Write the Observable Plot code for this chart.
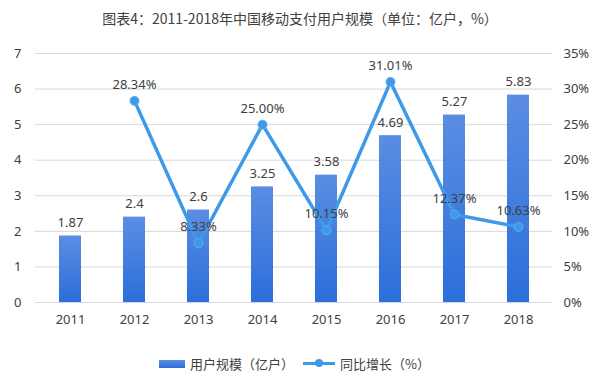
<!DOCTYPE html>
<html><head><meta charset="utf-8">
<script src="https://cdn.jsdelivr.net/npm/d3@7"></script>
<script src="https://cdn.jsdelivr.net/npm/@observablehq/plot@0.6"></script>
<style>
body{margin:0;background:#fff;font-family:"Noto Sans CJK SC","Noto Sans",sans-serif;width:600px;height:389px;position:relative;overflow:hidden;}
#title{height:40px;line-height:36px;text-align:center;font-size:14px;color:#404040;padding-left:0px;}
#chart svg{display:block;}
.lg{position:absolute;}
.lgt{position:absolute;font-size:13px;color:#404040;top:355px;line-height:18px;}
</style></head><body>
<div id="title">图表4：2011-2018年中国移动支付用户规模（单位：亿户，%）</div>
<div id="chart"></div>
<div class="lg" style="left:159px;top:360px;width:26px;height:8px;background:linear-gradient(#5b8de3,#2b6fd9);"></div>
<div class="lgt" style="left:190px;">用户规模（亿户）</div>
<div class="lg" style="left:303px;top:362px;width:32px;height:3px;background:#3e9ae8;"></div>
<div class="lg" style="left:315px;top:359px;width:8px;height:8px;border-radius:50%;background:#3e9ae8;"></div>
<div class="lgt" style="left:340px;">同比增长（%）</div>
<script>
const years = ["2011","2012","2013","2014","2015","2016","2017","2018"];
const users = [1.87, 2.4, 2.6, 3.25, 3.58, 4.69, 5.27, 5.83];
const growthYears = ["2012","2013","2014","2015","2016","2017","2018"];
const growth = [28.34, 8.33, 25.00, 10.15, 31.01, 12.37, 10.63];
const leftTicks = [0,1,2,3,4,5,6,7];
const rightTicks = [0,5,10,15,20,25,30,35];

const barData = years.map((y,i)=>({year:y, v:users[i]}));
const lineData = growthYears.map((y,i)=>({year:y, g:growth[i], v:growth[i]/5}));

const font = "'Noto Sans','DejaVu Sans',sans-serif";
const plot = Plot.plot({
  width: 600,
  height: 300,
  marginTop: 13,
  marginBottom: 38,
  marginLeft: 35,
  marginRight: 48,
  style: {fontFamily: font, fontSize: "12px", color: "#404040", background: "#fff"},
  x: {domain: years, paddingInner: 0.66, paddingOuter: 0.33, label: null},
  y: {domain: [0, 7], label: null},
  marks: [
    Plot.ruleY(leftTicks, {stroke: "#d9d9d9", strokeWidth: 1}),
    Plot.axisY({ticks: leftTicks, anchor: "left", tickSize: 0, tickPadding: 14, label: null, tickFormat: d => String(d), fontSize: 13, fill: "#404040"}),
    Plot.axisY({ticks: leftTicks, anchor: "right", tickSize: 0, tickPadding: 11, label: null, tickFormat: d => rightTicks[leftTicks.indexOf(d)] + "%", fontSize: 13, fill: "#404040"}),
    Plot.axisX({tickSize: 0, tickPadding: 12, label: null, fontSize: 13, fill: "#404040"}),
    Plot.barY(barData, {x: "year", y: "v", fill: "url(#barGrad)"}),
    Plot.text(barData, {x: "year", y: "v", text: d => String(d.v), dy: -13, fontSize: 13, fill: "#404040"}),
    Plot.line(lineData, {x: "year", y: "v", stroke: "#3e9ae8", strokeWidth: 3.5}),
    Plot.dot(lineData, {x: "year", y: "v", r: 4.5, fill: "#3e9ae8", stroke: "#5aaef0", strokeWidth: 1}),
    Plot.text(lineData, {x: "year", y: "v", text: d => d.g.toFixed(2) + "%", dy: -16, fontSize: 13, fill: "#404040"})
  ]
});
d3.select(plot).insert("defs", ":first-child").html(
  '<linearGradient id="barGrad" x1="0" y1="0" x2="0" y2="1">' +
  '<stop offset="0" stop-color="#5b8de3"/><stop offset="1" stop-color="#2b6fd9"/></linearGradient>'
);
document.getElementById("chart").appendChild(plot);
</script>
</body></html>
